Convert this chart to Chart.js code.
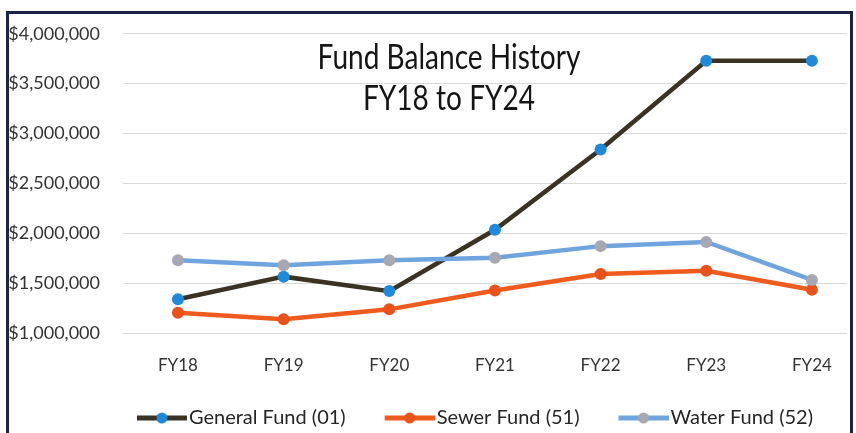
<!DOCTYPE html>
<html>
<head>
<meta charset="utf-8">
<script src="https://cdn.jsdelivr.net/npm/chart.js@4.4.1/dist/chart.umd.min.js"></script>
<style>
  html, body { margin: 0; padding: 0; background: #ffffff; }
  #wrap { position: relative; width: 856px; height: 433px; }
</style>
</head>
<body>
<div id="wrap"><canvas id="c" width="856" height="433"></canvas></div>
<script>
// ---- data ----
const categories = ['FY18', 'FY19', 'FY20', 'FY21', 'FY22', 'FY23', 'FY24'];
const generalFund = [1338000, 1565000, 1420000, 2035000, 2840000, 3730000, 3730000];
const sewerFund   = [1203000, 1138000, 1237000, 1427000, 1592000, 1624000, 1434000];
const waterFund   = [1730000, 1680000, 1730000, 1755000, 1871000, 1913000, 1532000];
const seriesNames = ['General Fund (01)', 'Sewer Fund (51)', 'Water Fund (52)'];
const yTickValues = [1000000, 1500000, 2000000, 2500000, 3000000, 3500000, 4000000];
const titleLines = ['Fund Balance History', 'FY18 to FY24'];

const toPoints = arr => arr.map((v, i) => ({ x: i, y: v }));

const colors = {
  general: { line: '#3a3324', point: '#1f8ad9' },
  sewer:   { line: '#ef5a1d', point: '#e9521a' },
  water:   { line: '#6fa4de', point: '#a7a8b1' }
};

function legendMarker(lineColor, pointColor) {
  const c = document.createElement('canvas');
  c.width = 90; c.height = 14;
  const g = c.getContext('2d');
  g.strokeStyle = lineColor; g.lineWidth = 5;
  g.beginPath(); g.moveTo(40, 7); g.lineTo(90, 7); g.stroke();
  g.fillStyle = pointColor;
  g.beginPath(); g.arc(65, 7, 5.5, 0, Math.PI * 2); g.fill();
  return c;
}
const markers = [
  legendMarker(colors.general.line, colors.general.point),
  legendMarker(colors.sewer.line, colors.sewer.point),
  legendMarker(colors.water.line, colors.water.point)
];

const titlePlugin = {
  id: 'overlayTitle',
  afterDatasetsDraw(chart) {
    const ctx = chart.ctx;
    ctx.save();
    ctx.fillStyle = '#151515';
    ctx.font = '34px Lato';
    ctx.textAlign = 'center';
    ctx.textBaseline = 'alphabetic';
    const cx = 449;
    const baselines = [69, 110];
    titleLines.forEach((t, i) => {
      ctx.save();
      ctx.translate(cx, baselines[i]);
      ctx.scale(0.825, 1);
      ctx.fillText(t, 0, 0);
      ctx.restore();
    });
    ctx.restore();
  }
};

// legend box spans the full width; nudge it so its content sits where the reference has it
const legendShiftPlugin = {
  id: 'legendShift',
  afterLayout(chart) {
    const lg = chart.legend;
    if (lg) {
      lg.left += 35.5; lg.right += 35.5;
      lg.top += 5; lg.bottom += 5;
    }
  }
};

const framePlugin = {
  id: 'frame',
  afterDraw(chart) {
    const ctx = chart.ctx;
    ctx.save();
    ctx.strokeStyle = '#1b2444';
    ctx.lineWidth = 3;
    ctx.strokeRect(7.5, 12.5, 844, 440);
    ctx.restore();
  }
};

const baseDataset = {
  borderWidth: 4.5,
  pointRadius: 6,
  pointHoverRadius: 6,
  pointBorderWidth: 0,
  tension: 0,
  fill: false
};

new Chart(document.getElementById('c'), {
  type: 'line',
  data: {
    datasets: [
      Object.assign({}, baseDataset, {
        label: seriesNames[0], data: toPoints(generalFund), order: 2,
        borderColor: colors.general.line,
        pointBackgroundColor: colors.general.point, pointBorderColor: colors.general.point
      }),
      Object.assign({}, baseDataset, {
        label: seriesNames[1], data: toPoints(sewerFund), order: 1,
        borderColor: colors.sewer.line,
        pointBackgroundColor: colors.sewer.point, pointBorderColor: colors.sewer.point
      }),
      Object.assign({}, baseDataset, {
        label: seriesNames[2], data: toPoints(waterFund), order: 0,
        borderColor: colors.water.line,
        pointBackgroundColor: colors.water.point, pointBorderColor: colors.water.point
      })
    ]
  },
  options: {
    responsive: false,
    animation: false,
    events: [],
    layout: { padding: { left: 0, right: 9, top: 29, bottom: 0 } },
    scales: {
      x: {
        type: 'linear',
        min: -0.52,
        max: 6.332,
        grid: { display: false, drawTicks: false },
        border: { display: false },
        afterBuildTicks(scale) { scale.ticks = categories.map((_, i) => ({ value: i })); },
        afterFit(scale) { scale.height = 63; },
        ticks: {
          autoSkip: false, maxRotation: 0, padding: 22,
          color: '#333333',
          font: { family: 'Lato', size: 17 },
          callback: v => categories[v]
        }
      },
      y: {
        min: yTickValues[0],
        max: yTickValues[yTickValues.length - 1],
        afterBuildTicks(scale) { scale.ticks = yTickValues.map(v => ({ value: v })); },
        afterFit(scale) { scale.width = 123; },
        grid: { color: '#d9d9d9', lineWidth: 1, drawTicks: false },
        border: { display: false },
        ticks: {
          padding: 23,
          color: '#333333',
          font: { family: 'Lato', size: 18 },
          callback: v => '$' + Number(v).toLocaleString('en-US')
        }
      }
    },
    plugins: {
      title: { display: false },
      tooltip: { enabled: false },
      legend: {
        display: true,
        position: 'bottom',
        labels: {
          usePointStyle: true,
          pointStyleWidth: 74,
          padding: 7,
          color: '#262626',
          font: { family: 'Lato', size: 20 },
          sort: (a, b) => a.datasetIndex - b.datasetIndex,
          generateLabels(chart) {
            const items = Chart.defaults.plugins.legend.labels.generateLabels(chart);
            items.forEach(it => { it.pointStyle = markers[it.datasetIndex]; });
            return items;
          }
        }
      }
    }
  },
  plugins: [legendShiftPlugin, titlePlugin, framePlugin]
});
</script>
</body>
</html>
